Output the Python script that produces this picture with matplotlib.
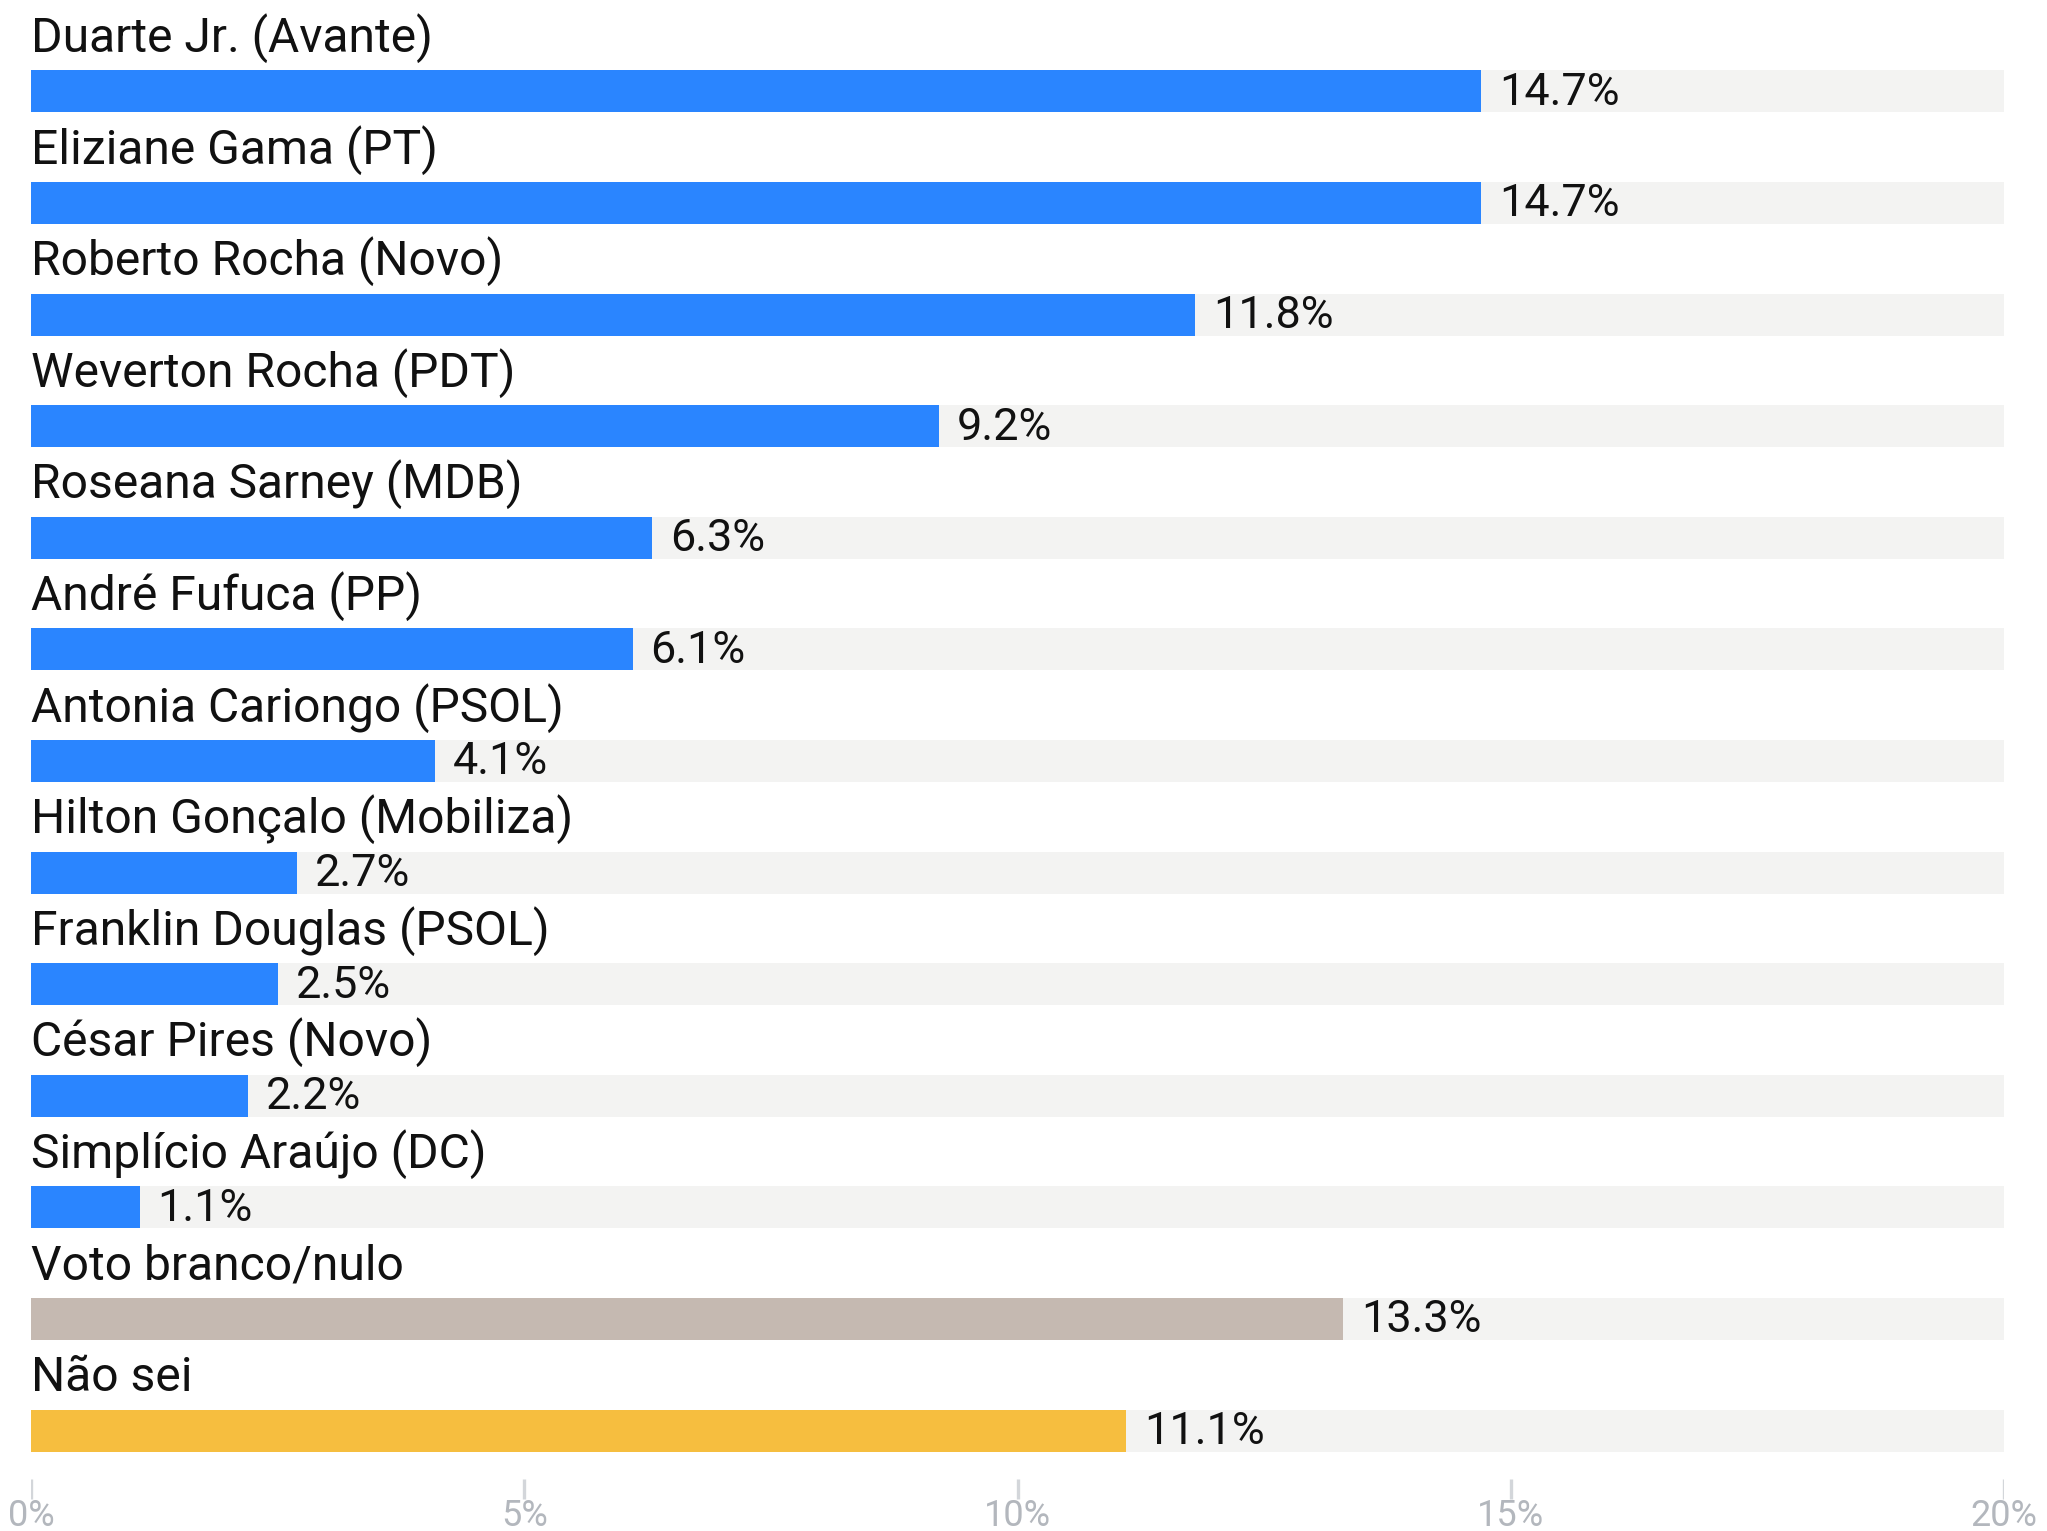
import matplotlib
matplotlib.use("Agg")
import matplotlib.pyplot as plt

candidates = ["Duarte Jr. (Avante)", "Eliziane Gama (PT)", "Roberto Rocha (Novo)",
              "Weverton Rocha (PDT)", "Roseana Sarney (MDB)", "André Fufuca (PP)",
              "Antonia Cariongo (PSOL)", "Hilton Gonçalo (Mobiliza)", "Franklin Douglas (PSOL)",
              "César Pires (Novo)", "Simplício Araújo (DC)", "Voto branco/nulo", "Não sei"]
values = [14.7, 14.7, 11.8, 9.2, 6.3, 6.1, 4.1, 2.7, 2.5, 2.2, 1.1, 13.3, 11.1]
value_labels = ["14.7%", "14.7%", "11.8%", "9.2%", "6.3%", "6.1%", "4.1%", "2.7%",
                "2.5%", "2.2%", "1.1%", "13.3%", "11.1%"]
xticks = [0, 5, 10, 15, 20]
xtick_labels = ["0%", "5%", "10%", "15%", "20%"]

BLUE = "#2a85ff"
GRAY = "#c5b9b1"
YELLOW = "#f6be3f"
TRACK = "#f3f3f2"
colors = [BLUE] * 11 + [GRAY, YELLOW]

plt.rcParams['font.family'] = ['Roboto', 'DejaVu Sans']

W, H = 2047, 1531
fig = plt.figure(figsize=(W / 200, H / 200), dpi=200)
x0, x20 = 31, 2004
ax = fig.add_axes([x0 / W, 0, (x20 - x0) / W, 1])
ax.set_xlim(0, 20)
row0, step = 91.4, 111.6
ax.set_ylim((H - row0) / step, -row0 / step)
ax.axis("off")

n = len(candidates)
ys = list(range(n))
bh = 0.376
# fundo cinza claro ate 20%
ax.barh(ys, [20] * n, height=bh, color=TRACK, linewidth=0)
ax.barh(ys, values, height=bh, color=colors, linewidth=0)

for y, name, v, lab in zip(ys, candidates, values, value_labels):
    ax.text(0, y - 0.353, name, fontsize=17.3, color="#111111", va="baseline", ha="left")
    ax.text(v + 0.18, y + 0.12, lab, fontsize=16.2, color="#111111", va="baseline", ha="left")

ty0 = (1479 - row0) / step
ty1 = (1499 - row0) / step
ax.vlines(xticks, ty0, ty1, color="#d3d6da", linewidth=1.2)
for t, lab in zip(xticks, xtick_labels):
    ax.text(t, (1516 - row0) / step, lab, fontsize=13, color="#b3b7bd", ha="center", va="center")

fig.savefig("out.png", dpi=200, facecolor="white")
